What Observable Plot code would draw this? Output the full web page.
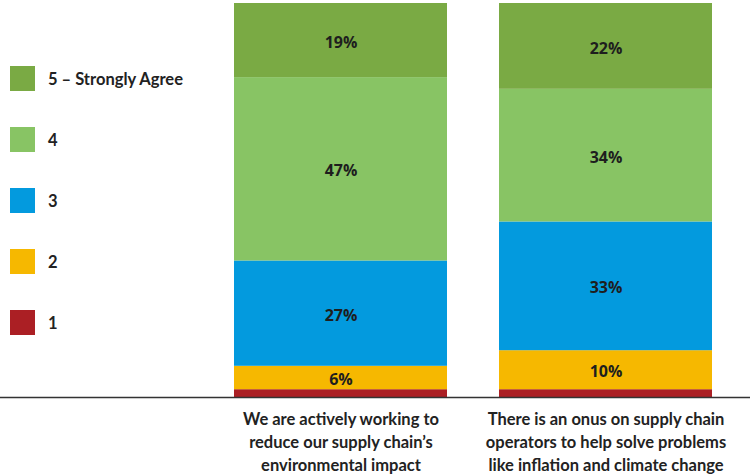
<!DOCTYPE html>
<html>
<head>
<meta charset="utf-8">
<script src="https://cdn.jsdelivr.net/npm/d3@7"></script>
<script src="https://cdn.jsdelivr.net/npm/@observablehq/plot@0.6"></script>
<style>
  html, body { margin: 0; padding: 0; background: #fff; }
  #wrap { position: relative; width: 750px; height: 475px; font-family: Lato, "Open Sans", sans-serif; }
  #legend { position: absolute; left: 10px; top: 66px; }
  .item { display: flex; align-items: center; height: 25px; margin-bottom: 36px; }
  .sw { width: 25px; height: 25px; margin-right: 13px; }
  .lab { font-size: 16.5px; font-weight: 700; color: #222; }
</style>
</head>
<body>
<div id="wrap"><div id="legend"></div></div>
<script>
// Survey statements (x categories)
const statements = [
  "We are actively working to\nreduce our supply chain’s\nenvironmental impact",
  "There is an onus on supply chain\noperators to help solve problems\nlike inflation and climate change"
];
// Agreement levels, bottom to top
const levels = ["1", "2", "3", "4", "5"];
const levelNames = ["1", "2", "3", "4", "5 – Strongly Agree"];
const levelColors = ["#ab1f24", "#f6b800", "#039ade", "#88c464", "#7aaa44"];
// Share of respondents (%) per level
const valuesA = [2, 6, 27, 47, 19];
const valuesB = [2, 10, 33, 34, 22];

const data = [];
[valuesA, valuesB].forEach((vals, i) => {
  vals.forEach((v, j) => data.push({statement: statements[i], level: levels[j], value: v}));
});

const chart = Plot.plot({
  width: 750,
  height: 475,
  marginLeft: 233,
  marginRight: 37,
  marginTop: 3,
  marginBottom: 78,
  style: {fontFamily: "Lato, 'Open Sans', sans-serif", color: "#222", background: "#fff"},
  x: {domain: statements, paddingInner: 0.195, paddingOuter: 0, label: null},
  y: {domain: [0, 101], axis: null},
  color: {domain: levels, range: levelColors},
  marks: [
    Plot.barY(data, {x: "statement", y: "value", fill: "level", order: levels}),
    Plot.text(data, Plot.stackY({
      x: "statement", y: "value", z: "level", order: levels,
      text: d => d.level === "1" ? null : `${d.value}%`,
      fontFamily: "'Open Sans', sans-serif",
      fontSize: 16, fontWeight: 700, fill: "#1e1e1e", dy: 2
    })),
    Plot.ruleY([0], {stroke: "#333", strokeWidth: 1.5, insetLeft: -233, insetRight: -37}),
    Plot.axisX({tickSize: 0, tickPadding: 11, fontSize: 16.5, fontWeight: 700, lineHeight: 1.4, label: null})
  ]
});
document.getElementById("wrap").appendChild(chart);

// Legend, top level first
const legend = d3.select("#legend");
levels.slice().reverse().forEach((k, idx) => {
  const j = levels.length - 1 - idx;
  const item = legend.append("div").attr("class", "item");
  item.append("div").attr("class", "sw").style("background", levelColors[j]);
  item.append("div").attr("class", "lab").text(levelNames[j]);
});
</script>
</body>
</html>
